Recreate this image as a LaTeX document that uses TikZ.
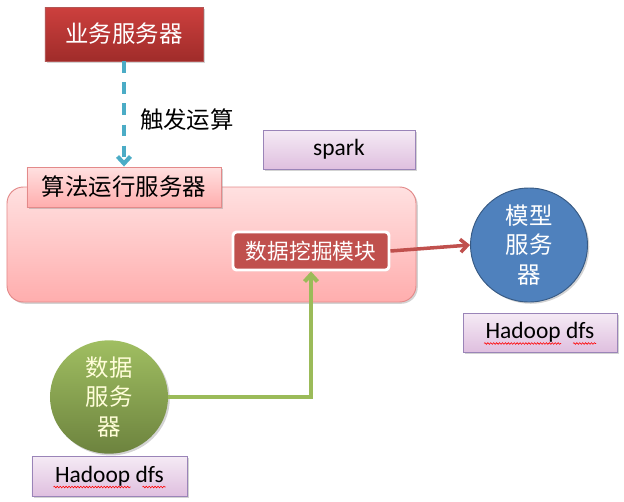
\documentclass[tikz,border=0pt]{standalone}
\usepackage{fontspec}
\setmainfont{Carlito}
\newfontfamily\cjk{Noto Sans CJK SC}
\usepackage{xcolor}
\usetikzlibrary{arrows.meta,shadows,shapes.geometric,decorations.pathmorphing}
\definecolor{bizred}{HTML}{C0504D}
\definecolor{darkred}{HTML}{A02C2A}
\definecolor{linkteal}{HTML}{4BACC6}
\definecolor{linkgreen}{HTML}{9BBB59}
\definecolor{modelblue}{HTML}{4F81BD}
\definecolor{pinkline}{HTML}{E38A8A}
\definecolor{purpleline}{HTML}{9A84B8}

\begin{document}
\begin{tikzpicture}[x=0.03cm, y=-0.03cm,
    every node/.style={inner sep=0pt, font=\cjk\fontsize{20}{25}\selectfont},
    shadowed/.style={drop shadow={shadow xshift=1.5pt, shadow yshift=-1.5pt, opacity=0.35}},
    bizbox/.style={shadowed, draw=darkred!80, top color=bizred!80!red, bottom color=darkred, text=white},
    tagbox/.style={shadowed, draw=purpleline, line width=0.8pt, top color=violet!8, bottom color=violet!25, font=\fontsize{20}{24}\selectfont},
    algobox/.style={shadowed, draw=pinkline, line width=0.8pt, top color=red!12, bottom color=red!32},
    minebox/.style={draw=white, line width=2.5pt, rounded corners=3pt, fill=bizred, text=white, font=\cjk\fontsize{18.5}{22}\selectfont, drop shadow={shadow xshift=1pt, shadow yshift=-1pt, opacity=0.3}},
    server/.style={ellipse, shadowed, align=center},
    link/.style={-{Straight Barb[length=6pt, width=11pt]}, line width=3pt},
    spell/.style={draw=red, line width=0.5pt, decorate, decoration={snake, amplitude=0.7pt, segment length=2.5pt}}
]
\useasboundingbox (0,0) rectangle (624,501);

% business server triggers the run
\node[bizbox, minimum width=4.74cm, minimum height=1.62cm] (biz) at (124,34) {业务服务器};
\node[tagbox, minimum width=4.56cm, minimum height=1.17cm] (spark) at (339,149.5) {spark};

% algorithm server
\node[algobox, rounded corners=14pt, minimum width=12.27cm, minimum height=3.45cm] (algo) at (211.5,244.5) {};
\node[algobox, minimum width=5.82cm, minimum height=1.2cm] (algolabel) at (124,187) {算法运行服务器};
\node[minebox, minimum width=4.68cm, minimum height=1.14cm] (mine) at (311,251) {数据挖掘模块};

\draw[link, linkteal, line width=3.5pt, dash pattern=on 10pt off 8pt] (biz.south) -- (algolabel.north)
    node[pos=0.55, right=12pt, text=black] (trigger) {触发运算};

% model server
\node[server, draw=modelblue!70!black, line width=0.8pt, fill=modelblue, text=white, minimum width=3.51cm, minimum height=3.42cm] (model) at (529,245) {模型\\服务\\器};
\node[tagbox, minimum width=4.62cm, minimum height=1.17cm] (hdfsR) at (540,332.5) {Hadoop dfs};

% data server
\node[server, draw=none, top color=linkgreen!95, bottom color=linkgreen!70!black, text=yellow!15, minimum width=3.54cm, minimum height=2.97cm] (data) at (109,397) {数据\\服务\\器};
\node[tagbox, minimum width=4.65cm, minimum height=1.2cm] (hdfsL) at (109.5,476) {Hadoop dfs};

\draw[link, bizred] (mine.east) -- (model.west);
\draw[link, linkgreen, line width=3.5pt] (data.east) -| (mine.south);

\foreach \n in {hdfsL,hdfsR}{
    \draw[spell] ([shift={(-56,11)}]\n.center) -- ++(77,0);
    \draw[spell] ([shift={(33,11)}]\n.center) -- ++(23,0);
}
\end{tikzpicture}
\end{document}
